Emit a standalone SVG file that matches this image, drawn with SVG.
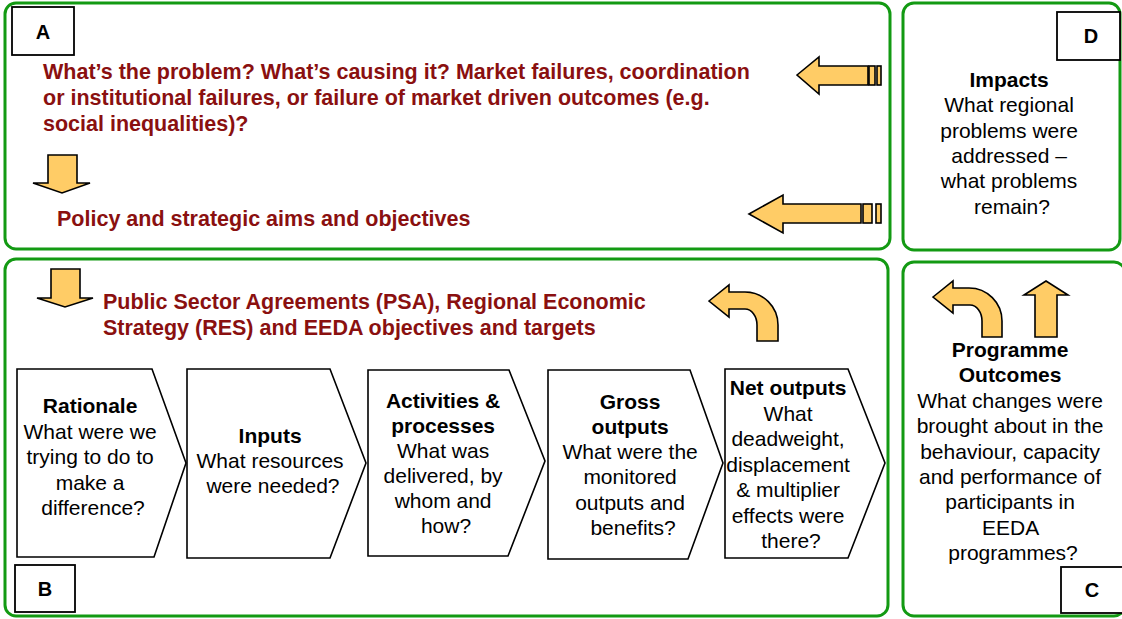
<svg xmlns="http://www.w3.org/2000/svg" width="1122" height="619" viewBox="0 0 1122 619">
  <style>
    .panel { fill: #ffffff; stroke: #139a13; stroke-width: 3; }
    .tag { fill: #ffffff; stroke: #000000; stroke-width: 1.8; }
    .tagtxt { font-family: "Liberation Sans", Arial, sans-serif; font-weight: bold; font-size: 20px; fill: #000000; text-anchor: middle; }
    .red { font-family: "Liberation Sans", Arial, sans-serif; font-weight: bold; font-size: 21.5px; fill: #8a1010; }
    .body { font-family: "Liberation Sans", Arial, sans-serif; font-size: 21px; fill: #000000; text-anchor: middle; }
    .body .h { font-weight: bold; }
    .chev { fill: #ffffff; stroke: #000000; stroke-width: 1.6; stroke-linejoin: miter; }
    .arrow { fill: #ffcc66; stroke: #000000; stroke-width: 1.6; stroke-linejoin: miter; }
  </style>

  <!-- Panel A: problem and policy aims -->
  <g id="panel-a">
    <rect class="panel" x="5" y="3" width="885" height="246" rx="11"/>
    <rect class="tag" x="12" y="7" width="62" height="48"/>
    <text class="tagtxt" x="43" y="39">A</text>
    <text class="red" x="43" y="79">What’s the problem? What’s causing it? Market failures, coordination</text>
    <text class="red" x="43" y="105">or institutional failures, or failure of market driven outcomes (e.g.</text>
    <text class="red" x="43" y="131">social inequalities)?</text>
    <text class="red" x="57" y="226">Policy and strategic aims and objectives</text>
  </g>

  <!-- Panel D: impacts -->
  <g id="panel-d">
    <rect class="panel" x="903" y="3" width="217" height="247" rx="11"/>
    <rect class="tag" x="1057" y="12" width="63" height="48"/>
    <text class="tagtxt" x="1091" y="43">D</text>
    <text class="body">
      <tspan class="h" x="1012" y="87">Impacts</tspan>
      <tspan x="1012" y="112.3">What regional</tspan>
      <tspan x="1012" y="137.6">problems were</tspan>
      <tspan x="1012" y="162.9">addressed –</tspan>
      <tspan x="1012" y="188.2">what problems</tspan>
      <tspan x="1012" y="213.5">remain?</tspan>
    </text>
  </g>

  <!-- Panel B: logic chain -->
  <g id="panel-b">
    <rect class="panel" x="5" y="259" width="883" height="357" rx="11"/>
    <text class="red" x="103" y="309">Public Sector Agreements (PSA), Regional Economic</text>
    <text class="red" x="103" y="335">Strategy (RES) and EEDA objectives and targets</text>
    <rect class="tag" x="15" y="565" width="60" height="47"/>
    <text class="tagtxt" x="45" y="596">B</text>
  </g>

  <!-- Panel C: programme outcomes -->
  <g id="panel-c">
    <rect class="panel" x="903" y="262" width="222" height="354" rx="11"/>
    <rect class="tag" x="1061" y="567" width="63" height="46"/>
    <text class="tagtxt" x="1092" y="597">C</text>
    <text class="body">
      <tspan class="h" x="1013" y="357">Programme</tspan>
      <tspan class="h" x="1013" y="382.4">Outcomes</tspan>
      <tspan x="1013" y="407.8">What changes were</tspan>
      <tspan x="1013" y="433.2">brought about in the</tspan>
      <tspan x="1013" y="458.6">behaviour, capacity</tspan>
      <tspan x="1013" y="484">and performance of</tspan>
      <tspan x="1013" y="509.4">participants in</tspan>
      <tspan x="1013" y="534.8">EEDA</tspan>
      <tspan x="1013" y="560.2">programmes?</tspan>
    </text>
  </g>

  <!-- Chain of stages -->
  <g id="stage-rationale">
    <polygon class="chev" points="17,369 152,369 186,463 154,557 17,557"/>
    <text class="body">
      <tspan class="h" x="93" y="413">Rationale</tspan>
      <tspan x="93" y="438.5">What were we</tspan>
      <tspan x="93" y="464">trying to do to</tspan>
      <tspan x="93" y="489.5">make a</tspan>
      <tspan x="93" y="515">difference?</tspan>
    </text>
  </g>
  <g id="stage-inputs">
    <polygon class="chev" points="187,369 330,369 366,463 330,558 187,558"/>
    <text class="body">
      <tspan class="h" x="273" y="443">Inputs</tspan>
      <tspan x="273" y="468">What resources</tspan>
      <tspan x="273" y="493">were needed?</tspan>
    </text>
  </g>
  <g id="stage-activities">
    <polygon class="chev" points="368,370 509,370 545,461 508,556 368,556"/>
    <text class="body">
      <tspan class="h" x="446" y="408">Activities &amp;</tspan>
      <tspan class="h" x="446" y="433">processes</tspan>
      <tspan x="446" y="458">What was</tspan>
      <tspan x="446" y="483">delivered, by</tspan>
      <tspan x="446" y="508">whom and</tspan>
      <tspan x="446" y="533">how?</tspan>
    </text>
  </g>
  <g id="stage-gross">
    <polygon class="chev" points="548,370 690,370 723,463 688,559 548,559"/>
    <text class="body">
      <tspan class="h" x="633" y="408.5">Gross</tspan>
      <tspan class="h" x="633" y="433.8">outputs</tspan>
      <tspan x="633" y="459.1">What were the</tspan>
      <tspan x="633" y="484.4">monitored</tspan>
      <tspan x="633" y="509.7">outputs and</tspan>
      <tspan x="633" y="535">benefits?</tspan>
    </text>
  </g>
  <g id="stage-net">
    <polygon class="chev" points="725,369 848,369 885,463 848,558 725,558"/>
    <text class="body">
      <tspan class="h" x="791" y="395">Net outputs</tspan>
      <tspan x="791" y="420.5">What</tspan>
      <tspan x="791" y="446">deadweight,</tspan>
      <tspan x="791" y="471.5">displacement</tspan>
      <tspan x="791" y="497">&amp; multiplier</tspan>
      <tspan x="791" y="522.5">effects were</tspan>
      <tspan x="791" y="548">there?</tspan>
    </text>
  </g>

  <!-- Block arrows linking the panels -->
  <g id="connectors">
    <!-- down arrows in A and B -->
    <polygon class="arrow" points="48,155 77,155 77,183 90,183 62,193 33,183 48,183"/>
    <polygon class="arrow" points="51,269 80,269 80,298 93,298 65,307 37,298 51,298"/>
    <!-- striped left arrows from D into A -->
    <polygon class="arrow" points="797,75 819,57 819,66 868,66 868,85 819,85 819,94"/>
    <rect class="arrow" x="869" y="66" width="6" height="19"/>
    <rect class="arrow" x="877" y="66" width="4" height="19"/>
    <polygon class="arrow" points="749,214 783,195 783,204 861,204 861,223 783,223 783,233"/>
    <rect class="arrow" x="863" y="204" width="9" height="19"/>
    <rect class="arrow" x="876" y="204" width="5" height="19"/>
    <!-- curved arrow in B -->
    <path class="arrow" d="M709,301 L729,285 L729,292 H745 A33,33 0 0 1 778,325 V341 H757 V325 A12,16 0 0 0 745,309 H729 V317 Z"/>
    <!-- curved arrow and up arrow in C -->
    <path class="arrow" d="M933,297 L953,281 L953,288 H969 A33,33 0 0 1 1002,321 V337 H982 V321 A12,16 0 0 0 970,305 H953 V313 Z"/>
    <polygon class="arrow" points="1046,281 1068,295 1057,295 1057,337 1035,337 1035,295 1024,295"/>
  </g>
</svg>
